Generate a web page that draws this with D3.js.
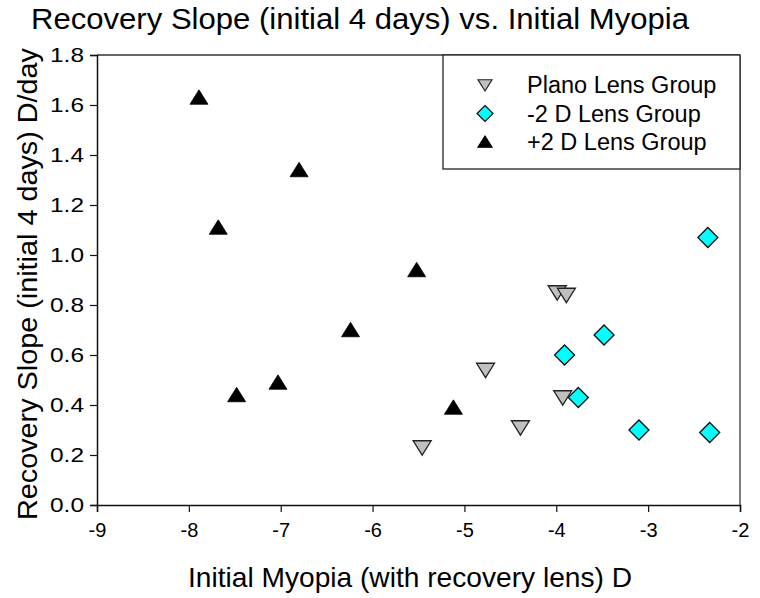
<!DOCTYPE html>
<html>
<head>
<meta charset="utf-8">
<script src="https://cdn.jsdelivr.net/npm/d3@7"></script>
<style>
  html, body { margin: 0; padding: 0; background: #fff; }
  text { font-family: "Liberation Sans", Arial, sans-serif; }
</style>
</head>
<body>
<svg id="chart" width="760" height="598"></svg>
<script>
// ---- Data ----
const plusX  = [-7.89, -7.68, -6.80, -7.48, -7.03, -6.24, -5.52, -5.12];
const plusY  = [1.63, 1.11, 1.34, 0.44, 0.49, 0.70, 0.94, 0.39];
const planoX = [-5.46, -4.77, -4.39, -3.99, -3.89, -3.93];
const planoY = [0.23, 0.54, 0.31, 0.85, 0.84, 0.43];
const minusX = [-2.35, -3.91, -3.48, -3.76, -3.10, -2.33];
const minusY = [1.07, 0.60, 0.68, 0.43, 0.30, 0.29];
const xTicks = [-9, -8, -7, -6, -5, -4, -3, -2];
const yTicks = [0.0, 0.2, 0.4, 0.6, 0.8, 1.0, 1.2, 1.4, 1.6, 1.8];
const seriesNames = ["Plano Lens Group", "-2 D Lens Group", "+2 D Lens Group"];

const svg = d3.select("#chart");
const L = 97, R = 740, T = 55, B = 505;
const x = d3.scaleLinear().domain([-9, -2]).range([L, R]);
const y = d3.scaleLinear().domain([0, 1.8]).range([B, T]);

// frame (top/right)
svg.append("line").attr("x1", L).attr("x2", R).attr("y1", T).attr("y2", T).attr("stroke", "#333").attr("stroke-width", 1.5);
svg.append("line").attr("x1", R).attr("x2", R).attr("y1", T).attr("y2", B).attr("stroke", "#555").attr("stroke-width", 1.5);

// axes
const xAxis = d3.axisBottom(x).tickValues(xTicks).tickFormat(d => String(d)).tickSizeOuter(0).tickSize(7).tickPadding(8);
const yAxis = d3.axisLeft(y).tickValues(yTicks).tickFormat(d => d.toFixed(1)).tickSizeOuter(0).tickSize(7).tickPadding(6);
const gx = svg.append("g").attr("transform", `translate(0,${B})`).call(xAxis);
const gy = svg.append("g").attr("transform", `translate(${L},0)`).call(yAxis);
[gx, gy].forEach(g => {
  g.select(".domain").attr("stroke", "#111").attr("stroke-width", 1.5);
  g.selectAll(".tick line").attr("stroke", "#111").attr("stroke-width", 1.2);
  g.selectAll(".tick text").attr("font-size", 20).attr("fill", "#000").style("font-family", "'Liberation Sans', Arial, sans-serif");
});
gx.selectAll(".tick text").attr("dy", "0.85em");
gy.selectAll(".tick text").attr("textLength", 34).attr("lengthAdjust", "spacingAndGlyphs");

// titles
svg.append("text").attr("x", 360).attr("y", 29).attr("text-anchor", "middle")
  .attr("font-size", 29).attr("textLength", 658).attr("lengthAdjust", "spacingAndGlyphs")
  .text("Recovery Slope (initial 4 days) vs. Initial Myopia");
svg.append("text").attr("x", 410).attr("y", 587).attr("text-anchor", "middle")
  .attr("font-size", 28.5).attr("textLength", 444).attr("lengthAdjust", "spacingAndGlyphs")
  .text("Initial Myopia (with recovery lens) D");
svg.append("text").attr("transform", `translate(37,${(T + B) / 2 + 4}) rotate(-90)`).attr("text-anchor", "middle")
  .attr("font-size", 28.5).attr("textLength", 472).attr("lengthAdjust", "spacingAndGlyphs")
  .text("Recovery Slope (initial 4 days) D/day");

// marker shapes
const upTri = s => `M0,${-s*0.85}L${s},${s*0.75}L${-s},${s*0.75}Z`;
const downTri = s => `M0,${s*0.85}L${s},${-s*0.75}L${-s},${-s*0.75}Z`;
const diamond = s => `M0,${-s}L${s},0L0,${s}L${-s},0Z`;

const plano = planoX.map((v, i) => ({x: v, y: planoY[i]}));
const minus = minusX.map((v, i) => ({x: v, y: minusY[i]}));
const plus = plusX.map((v, i) => ({x: v, y: plusY[i]}));

svg.append("g").selectAll("path").data(plus).join("path")
  .attr("transform", d => `translate(${x(d.x)},${y(d.y)})`)
  .attr("d", upTri(9)).attr("fill", "#000").attr("stroke", "#000").attr("stroke-width", 0.8);
svg.append("g").selectAll("path").data(plano).join("path")
  .attr("transform", d => `translate(${x(d.x)},${y(d.y)})`)
  .attr("d", downTri(9)).attr("fill", "#c0c0c0").attr("stroke", "#222").attr("stroke-width", 1.3);
svg.append("g").selectAll("path").data(minus).join("path")
  .attr("transform", d => `translate(${x(d.x)},${y(d.y)})`)
  .attr("d", diamond(10)).attr("fill", "#00ffff").attr("stroke", "#111").attr("stroke-width", 1.3);

// legend
const lg = svg.append("g");
lg.append("rect").attr("x", 443).attr("y", T).attr("width", R - 443).attr("height", 114)
  .attr("fill", "#fff").attr("stroke", "#222").attr("stroke-width", 1.3);
const legendItems = [
  {name: seriesNames[0], d: downTri(7), fill: "#c0c0c0", stroke: "#222"},
  {name: seriesNames[1], d: diamond(8), fill: "#00ffff", stroke: "#111"},
  {name: seriesNames[2], d: upTri(7), fill: "#000", stroke: "#000"}
];
legendItems.forEach((it, i) => {
  const cy = 85 + i * 28.5;
  lg.append("path").attr("transform", `translate(485,${cy})`).attr("d", it.d)
    .attr("fill", it.fill).attr("stroke", it.stroke).attr("stroke-width", 1.2);
  lg.append("text").attr("x", 527).attr("y", cy + 8).attr("font-size", 23.5).text(it.name);
});
</script>
</body>
</html>
